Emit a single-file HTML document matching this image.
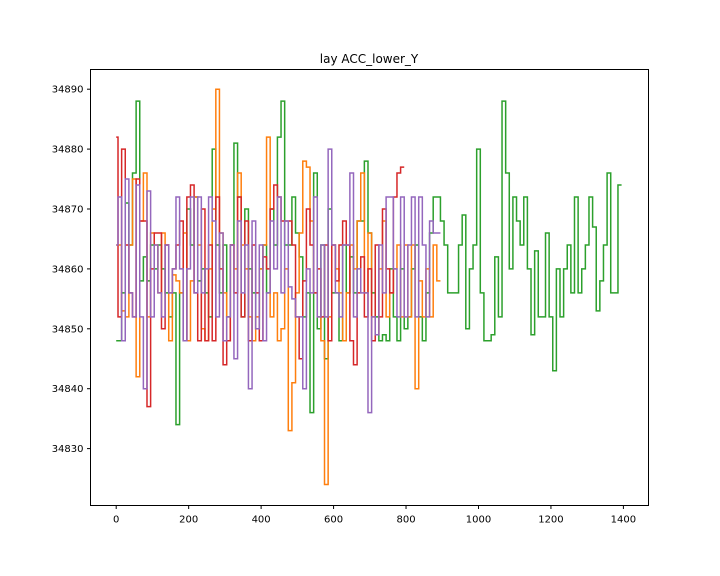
<!DOCTYPE html>
<html><head><meta charset="utf-8"><style>
html,body{margin:0;padding:0;background:#fff;width:720px;height:576px;overflow:hidden;}
svg{display:block;font-family:"DejaVu Sans","Liberation Sans",sans-serif;}
</style></head><body>
<svg id="chart" width="720" height="576" viewBox="0 0 720 576">
<rect x="0" y="0" width="720" height="576" fill="#fff"/>
<text x="369" y="63" text-anchor="middle" font-size="12" fill="#000">lay ACC_lower_Y</text>
<g id="series"></g>
<g id="axes"></g>
<rect x="90.5" y="69.5" width="558" height="436" fill="none" stroke="#000" stroke-width="1"/>
</svg>
<script>
const xTicks = [0, 200, 400, 600, 800, 1000, 1200, 1400];
const yTicks = [34830, 34840, 34850, 34860, 34870, 34880, 34890];
const stepSize = 10;
const greenValues = [34848,34848,34856,34871,34864,34876,34888,34858,34862,34858,34864,34860,34864,34860,34856,34852,34856,34834,34856,34848,34870,34864,34872,34858,34860,34856,34852,34880,34864,34856,34864,34852,34864,34881,34872,34852,34870,34860,34856,34850,34860,34864,34856,34870,34864,34882,34888,34864,34864,34872,34866,34862,34852,34856,34836,34876,34850,34864,34845,34870,34856,34856,34848,34864,34856,34862,34856,34868,34868,34878,34866,34856,34852,34848,34849,34848,34860,34852,34848,34860,34850,34852,34860,34864,34852,34848,34856,34866,34872,34872,34868,34864,34856,34856,34856,34864,34869,34850,34860,34864,34880,34856,34848,34848,34849,34862,34852,34888,34876,34860,34872,34868,34864,34872,34860,34849,34863,34852,34852,34866,34852,34843,34860,34852,34860,34864,34856,34872,34856,34860,34864,34872,34867,34853,34858,34864,34876,34856,34856,34874];
const orangeValues = [34864,34864,34853,34852,34864,34875,34842,34868,34876,34852,34866,34864,34856,34866,34864,34848,34859,34858,34856,34866,34848,34858,34872,34864,34850,34848,34860,34870,34890,34866,34856,34848,34864,34860,34876,34864,34860,34852,34848,34852,34860,34864,34882,34852,34856,34848,34850,34860,34833,34841,34856,34866,34878,34877,34868,34856,34852,34848,34824,34852,34864,34860,34856,34848,34856,34864,34860,34868,34876,34856,34866,34852,34849,34860,34868,34852,34856,34860,34864,34852,34864,34852,34864,34840,34858,34852,34860,34852,34864,34858];
const redValues = [34882,34852,34880,34864,34856,34852,34875,34868,34868,34837,34860,34866,34866,34850,34864,34856,34860,34864,34868,34848,34872,34874,34856,34848,34870,34848,34864,34848,34872,34860,34844,34848,34864,34856,34872,34852,34868,34848,34864,34856,34848,34862,34860,34870,34874,34872,34868,34868,34868,34864,34852,34845,34858,34870,34864,34856,34860,34852,34864,34848,34864,34858,34864,34868,34864,34848,34844,34856,34862,34852,34860,34848,34864,34852,34870,34860,34856,34872,34876,34877];
const purpleValues = [34864,34872,34848,34875,34856,34852,34874,34852,34840,34873,34852,34864,34856,34852,34864,34856,34860,34872,34860,34848,34860,34872,34856,34872,34856,34860,34872,34868,34852,34866,34848,34852,34864,34845,34868,34856,34864,34840,34868,34850,34864,34848,34856,34868,34860,34872,34856,34868,34857,34855,34852,34852,34840,34860,34856,34872,34852,34864,34852,34880,34864,34856,34852,34864,34864,34876,34852,34860,34856,34856,34836,34852,34849,34864,34856,34872,34872,34860,34852,34872,34852,34864,34872,34852,34872,34864,34852,34868,34866,34866];

const X0=90.5, X1=648.5, Y0=69.5, Y1=505.5;
function xScale(v){ return 116.2 + v*(623.4-116.2)/1400; }
function yScale(v){ return 448.6 - (v-34830)*(448.6-89.2)/60; }
const NS='http://www.w3.org/2000/svg';
const axes=document.getElementById('axes');
xTicks.forEach(t=>{
  const x=xScale(t);
  const l=document.createElementNS(NS,'line');
  l.setAttribute('x1',x);l.setAttribute('x2',x);l.setAttribute('y1',Y1);l.setAttribute('y2',Y1+3.5);
  l.setAttribute('stroke','#000');
  
  
  axes.appendChild(l);
  const tx=document.createElementNS(NS,'text');
  tx.setAttribute('x',x);tx.setAttribute('y',Y1+17);tx.setAttribute('text-anchor','middle');tx.setAttribute('font-size','10');
  tx.textContent=t;
  
  
  axes.appendChild(tx);
});
yTicks.forEach(t=>{
  const y=yScale(t);
  const l=document.createElementNS(NS,'line');
  l.setAttribute('x1',X0-3.5);l.setAttribute('x2',X0);l.setAttribute('y1',y);l.setAttribute('y2',y);
  l.setAttribute('stroke','#000');
  
  
  axes.appendChild(l);
  const tx=document.createElementNS(NS,'text');
  tx.setAttribute('x',X0-7);tx.setAttribute('y',y+3.5);tx.setAttribute('text-anchor','end');tx.setAttribute('font-size','10');
  tx.textContent=t;
  
  
  axes.appendChild(tx);
});
const sg=document.getElementById('series');
function drawSeries(vals,color,name){
  let d='';
  let prevX=0;
  vals.forEach((v,i)=>{
    const x=xScale(i*stepSize), y=yScale(v);
    if(i===0) d+='M'+x+' '+y;
    else d+=' H'+((prevX+x)/2)+' V'+y;
    prevX=x;
  });
  d+=' H'+xScale((vals.length-0.5)*stepSize);
  const p=document.createElementNS(NS,'path');
  p.setAttribute('d',d);p.setAttribute('fill','none');p.setAttribute('stroke',color);p.setAttribute('stroke-width','1.5');
  
  
  sg.appendChild(p);
}
drawSeries(greenValues,'#2ca02c','green-series');
drawSeries(orangeValues,'#ff7f0e','orange-series');
drawSeries(redValues,'#d62728','red-series');
drawSeries(purpleValues,'#9467bd','purple-series');
</script>
</body></html>
